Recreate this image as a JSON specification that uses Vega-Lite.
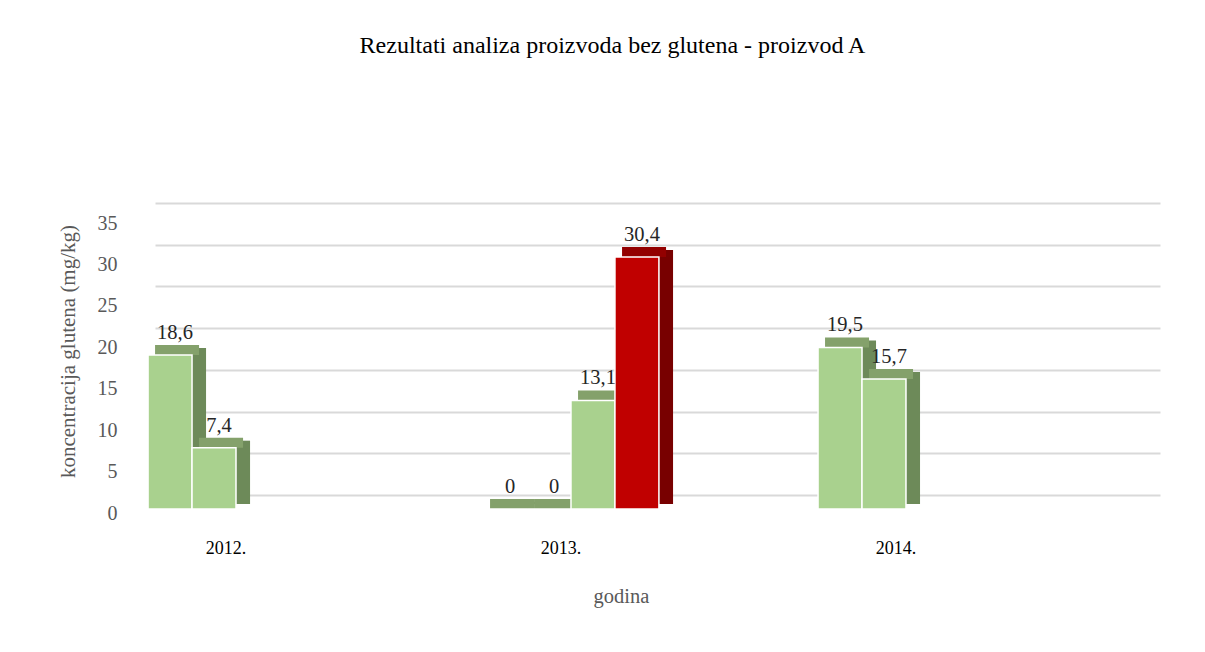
{
  "$schema": "https://vega.github.io/schema/vega-lite/v6.json",
  "autosize": {"type": "none"},
  "padding": {"left": 155, "top": 219, "right": 45, "bottom": 143},
  "width": 1005,
  "height": 290,
  "title": {
    "text": "Rezultati analiza proizvoda bez glutena - proizvod A",
    "font": "Liberation Serif",
    "fontSize": 24,
    "fontWeight": "normal",
    "color": "#000000",
    "anchor": "middle",
    "dx": -45,
    "baseline": "alphabetic",
    "offset": 136
  },
  "data": {
    "values": [
      {"godina": "2012.", "uzorak": "1", "vrijednost": 18.6, "status": "ispod"},
      {"godina": "2012.", "uzorak": "2", "vrijednost": 7.4, "status": "ispod"},
      {"godina": "2013.", "uzorak": "1", "vrijednost": 0, "status": "ispod"},
      {"godina": "2013.", "uzorak": "2", "vrijednost": 0, "status": "ispod"},
      {"godina": "2013.", "uzorak": "3", "vrijednost": 13.1, "status": "ispod"},
      {"godina": "2013.", "uzorak": "4", "vrijednost": 30.4, "status": "iznad"},
      {"godina": "2014.", "uzorak": "1", "vrijednost": 19.5, "status": "ispod"},
      {"godina": "2014.", "uzorak": "2", "vrijednost": 15.7, "status": "ispod"}
    ]
  },
  "layer": [
    {
      "mark": {"type": "rule", "strokeOpacity": 0},
      "encoding": {
        "y": {
          "field": "vrijednost",
          "type": "quantitative",
          "scale": {"domain": [0, 35], "range": [276, -16], "nice": false, "zero": true},
          "axis": {
            "orient": "right",
            "values": [0, 5, 10, 15, 20, 25, 30, 35],
            "grid": true,
            "gridColor": "#d9d9d9",
            "gridWidth": 2,
            "labels": false,
            "ticks": false,
            "domain": false,
            "title": null
          }
        }
      }
    },
    {
      "mark": {"type": "bar", "yOffset": -7, "y2Offset": -5, "strokeWidth": 0},
      "encoding": {
        "x": {
          "field": "godina",
          "type": "nominal",
          "scale": {"range": [-25, 985], "paddingInner": 0.475, "paddingOuter": 0.245, "align": 0.11},
          "axis": {
            "orient": "bottom",
            "labelAngle": 0,
            "labelFont": "Liberation Serif",
            "labelFontSize": 18,
            "labelColor": "#000000",
            "labelPadding": 30,
            "labelOffset": -10,
            "ticks": false,
            "tickSize": 0,
            "domain": false,
            "grid": false,
            "title": "godina",
            "titleFont": "Liberation Serif",
            "titleFontSize": 20.5,
            "titleFontWeight": "normal",
            "titleColor": "#595959",
            "titleX": 466,
            "titleY": 93,
            "titleBaseline": "alphabetic"
          }
        },
        "xOffset": {
          "field": "uzorak",
          "type": "nominal",
          "scale": {"domain": ["1", "2", "3", "4"], "range": [44, 190], "paddingInner": 0.682, "paddingOuter": 0}
        },
        "y": {"field": "vrijednost", "type": "quantitative", "stack": null, "scale": {"domain": [0, 35], "nice": false}, "axis": null},
        "y2": {"datum": 0},
        "color": {
          "field": "status",
          "type": "nominal",
          "scale": {"domain": ["ispod", "iznad"], "range": ["#6d8a59", "#780000"]},
          "legend": null
        }
      }
    },
    {
      "mark": {"type": "bar", "yOffset": -10, "strokeWidth": 0},
      "encoding": {
        "x": {"field": "godina", "type": "nominal"},
        "xOffset": {
          "field": "uzorak",
          "type": "nominal",
          "scale": {"domain": ["1", "2", "3", "4"], "range": [7, 183], "paddingInner": 0, "paddingOuter": 0}
        },
        "y": {"field": "vrijednost", "type": "quantitative", "stack": null, "axis": null},
        "y2": {"field": "vrijednost"},
        "fill": {
          "field": "status",
          "type": "nominal",
          "scale": {"domain": ["ispod", "iznad"], "range": ["#84a16b", "#930000"]},
          "legend": null
        }
      }
    },
    {
      "mark": {"type": "bar", "stroke": "white", "strokeWidth": 1.5},
      "encoding": {
        "x": {"field": "godina", "type": "nominal"},
        "xOffset": {
          "field": "uzorak",
          "type": "nominal",
          "scale": {"domain": ["1", "2", "3", "4"], "paddingInner": 0, "paddingOuter": 0}
        },
        "y": {
          "field": "vrijednost",
          "type": "quantitative",
          "stack": null,
          "axis": {
            "orient": "left",
            "values": [0, 5, 10, 15, 20, 25, 30, 35],
            "grid": false,
            "ticks": false,
            "tickSize": 0,
            "domain": false,
            "labelPadding": 38,
            "labelOffset": 4,
            "labelFont": "Liberation Serif",
            "labelFontSize": 20,
            "labelColor": "#595959",
            "title": "koncentracija glutena (mg/kg)",
            "titleFont": "Liberation Serif",
            "titleFontSize": 21,
            "titleFontWeight": "normal",
            "titleColor": "#595959",
            "titleX": -87,
            "titleY": 132,
            "titleBaseline": "middle"
          }
        },
        "color": {
          "field": "status",
          "type": "nominal",
          "scale": {"domain": ["ispod", "iznad"], "range": ["#a9d18e", "#c00000"]},
          "legend": null
        }
      }
    },
    {
      "mark": {"type": "text", "dx": 5, "dy": -16, "baseline": "alphabetic", "font": "Liberation Serif", "fontSize": 20.5, "color": "#262626"},
      "encoding": {
        "x": {"field": "godina", "type": "nominal"},
        "xOffset": {"field": "uzorak", "type": "nominal", "scale": {"type": "point", "domain": ["1", "2", "3", "4"], "range": [22, 154], "padding": 0}},
        "y": {"field": "vrijednost", "type": "quantitative", "axis": null},
        "text": {"field": "vrijednost", "type": "quantitative", "format": ".1~f"}
      }
    }
  ],
  "resolve": {
    "scale": {"y": "independent", "xOffset": "independent", "color": "independent", "fill": "independent"},
    "axis": {"y": "independent"}
  },
  "config": {
    "font": "Liberation Serif",
    "view": {"stroke": null},
    "locale": {"number": {"decimal": ",", "thousands": ".", "grouping": [3], "currency": ["", " €"]}}
  }
}
